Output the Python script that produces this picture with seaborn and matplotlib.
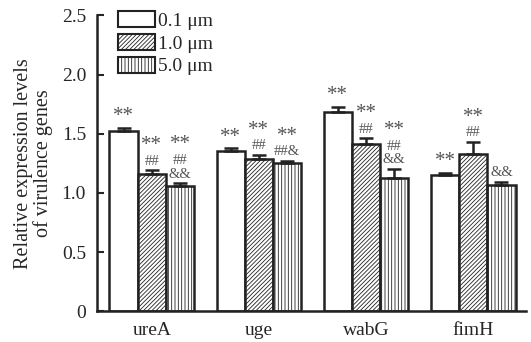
import numpy as np
import pandas as pd
import matplotlib
matplotlib.use("Agg")
import matplotlib.pyplot as plt
import seaborn as sns
from matplotlib.patches import Patch

# values
genes = ["ureA", "uge", "wabG", "fimH"]
sizes = ["0.1 μm", "1.0 μm", "5.0 μm"]
val_01 = [1.52, 1.35, 1.68, 1.15]
val_10 = [1.16, 1.29, 1.41, 1.33]
val_50 = [1.06, 1.25, 1.13, 1.07]
err_01 = [0.03, 0.03, 0.05, 0.02]
err_10 = [0.03, 0.03, 0.05, 0.10]
err_50 = [0.02, 0.02, 0.07, 0.02]
marks_01 = ["**", "**", "**", "**"]
marks_10 = ["**\n##", "**\n##", "**\n##", "**\n##"]
marks_50 = ["**\n##\n&&", "**\n##&", "**\n##\n&&", "&&"]

hatches = ["", "////////", "|||||"]

df = pd.DataFrame({
    "gene": genes * 3,
    "size": [s for s in sizes for _ in genes],
    "value": val_01 + val_10 + val_50,
    "err": err_01 + err_10 + err_50,
    "mark": marks_01 + marks_10 + marks_50,
})

sns.set_style("ticks")
plt.rcParams["font.family"] = ["Liberation Serif", "DejaVu Serif"]
plt.rcParams["hatch.linewidth"] = 0.6
plt.rcParams["hatch.color"] = "#333333"

fig, ax = plt.subplots(figsize=(5.31, 3.42), dpi=100)
sns.barplot(data=df, x="gene", y="value", hue="size", order=genes, hue_order=sizes,
            errorbar=None, width=0.79, palette=["white"] * 3,
            edgecolor="#222222", linewidth=1.8, legend=False, ax=ax)

# containers follow hue order
bar_groups = list(ax.containers)
for k, cont in enumerate(bar_groups):
    sub = df[df["size"] == sizes[k]].set_index("gene").loc[genes]
    xs = []
    for bar in cont:
        bar.set_hatch(hatches[k])
        xs.append(bar.get_x() + bar.get_width() / 2)
    xs = np.array(xs)
    ax.errorbar(xs, sub["value"], yerr=[np.zeros(len(xs)), sub["err"]], fmt="none",
                ecolor="#222222", elinewidth=1.8, capsize=5, capthick=1.8, zorder=3)
    for x, v, e, m in zip(xs, sub["value"], sub["err"], sub["mark"]):
        lines = m.split("\n")[::-1]
        for i, line in enumerate(lines):
            if line == "**":
                ax.annotate("**", (x, v + e), xytext=(0, 1 + 10 * i), textcoords="offset points",
                            ha="center", va="bottom", fontsize=15, color="#555555")
            else:
                ax.annotate(line, (x, v + e), xytext=(0, 2 + 10 * i), textcoords="offset points",
                            ha="center", va="bottom", fontsize=10.5, color="#555555")

ax.set_ylim(0, 2.5)
ax.set_xlim(-0.51, 3.49)
ax.set_yticks([0, 0.5, 1.0, 1.5, 2.0, 2.5])
ax.set_yticklabels(["0", "0.5", "1.0", "1.5", "2.0", "2.5"])
ax.set_xlabel("")
ax.set_ylabel("Relative expression levels\nof virulence genes", fontsize=14.5, linespacing=1.0,
              labelpad=6)
ax.tick_params(axis="y", direction="in", length=5, width=1.5, labelsize=14, pad=8)
ax.tick_params(axis="x", length=0, labelsize=14, pad=8)
sns.despine(ax=ax)
for s in ["left", "bottom"]:
    ax.spines[s].set_linewidth(1.8)
    ax.spines[s].set_color("#222222")

handles = [Patch(facecolor="white", edgecolor="#222222", linewidth=1.5, hatch=h, label=s)
           for h, s in zip(hatches, sizes)]
ax.legend(handles=handles, loc="upper left", bbox_to_anchor=(0.03, 1.04), frameon=False,
          fontsize=14, handlelength=1.9, handleheight=0.9, handletextpad=0.15,
          labelspacing=0.2, borderaxespad=0)

plt.subplots_adjust(left=0.183, right=0.99, top=0.955, bottom=0.09)
fig.savefig("out.png", dpi=100)
